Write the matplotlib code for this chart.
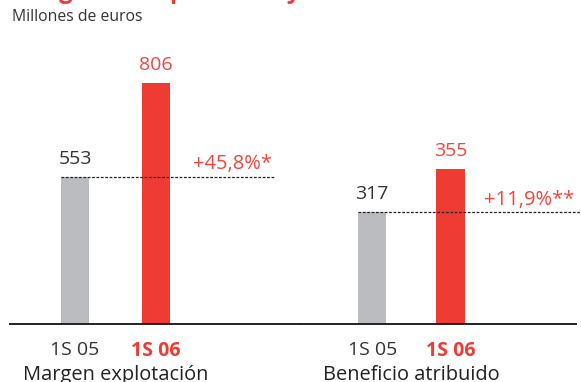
import matplotlib.pyplot as plt

plt.rcParams['font.family'] = ['Open Sans', 'DejaVu Sans']

# Figures in millions of euros, first half 2005 vs first half 2006
periods = ['1S 05', '1S 06']
margen = [553, 806]
beneficio = [317, 355]
growth_labels = ['+45,8%*', '+11,9%**']
group_names = ['Margen explotación', 'Beneficio atribuido']

RED = '#EE3B33'
RED_TEXT = '#F0463D'
GREY = '#BBBCC0'
DARK = '#333333'

W, H = 581, 382
fig = plt.figure(figsize=(W / 100, H / 100), dpi=100)

base = 324  # baseline, pixels from top


def px_axes(x0, x1):
    return fig.add_axes([x0 / W, (H - base) / H, (x1 - x0) / W, base / H])


# each panel has its own value range (broken scale)
ax1 = px_axes(10, 300)
ax2 = px_axes(300, 576)
ax1.set_xlim(-0.802, 2.778)
ax1.set_ylim(157.3, 1029.4)
ax2.set_xlim(-0.923, 2.603)
ax2.set_ylim(218.0, 504.3)

panels = [
    (ax1, margen, 0.346, 2.469, 1.95, 9.7),
    (ax2, beneficio, 0.359, 2.68, 2.0, 8.3),
]

for i, (ax, vals, width, dash_end, pct_x, pct_off) in enumerate(panels):
    x = list(range(len(vals)))
    ax.bar(x, vals, width=width, color=[GREY, RED], zorder=2)
    ax.hlines(vals[0], x[0] - width / 2, dash_end, colors='#222222',
              linestyles=(0, (2.2, 1.3)), linewidth=0.9, zorder=3, clip_on=False)
    for xi, v, c in zip(x, vals, [DARK, RED_TEXT]):
        ax.annotate(str(v), (xi, v), xytext=(0, 13), textcoords='offset points',
                    ha='center', va='center', fontsize=14, color=c)
    ax.annotate(growth_labels[i], (pct_x, vals[0]), xytext=(0, pct_off),
                textcoords='offset points', ha='center', va='center',
                fontsize=14.5, color=RED_TEXT, annotation_clip=False)

    ax.set_xticks(x)
    ax.set_xticklabels(periods, fontsize=14)
    tl = ax.get_xticklabels()
    tl[0].set_color(DARK)
    tl[1].set_color(RED)
    tl[1].set_fontweight('bold')
    ax.tick_params(axis='x', length=0, pad=12)
    ax.set_yticks([])
    for s in ['top', 'left', 'right']:
        ax.spines[s].set_visible(False)
    ax.spines['bottom'].set_color('#222222')
    ax.spines['bottom'].set_linewidth(1.4)
    # group name centred under its pair of bars
    ax.text(0.5, -51 / base, group_names[i], transform=ax.get_xaxis_transform(),
            ha='center', va='center', fontsize=14.4, color='#222222')
    ax.set_facecolor('none')

fig.text(12 / W, 1 - 17 / H, 'Millones de euros', fontsize=11.3, color=DARK,
         va='center', ha='left')
# heading sits above the visible area, only its descenders show
fig.text(12 / W, 1 + 2.5 / H, 'Margen de explotación y beneficio atribuido',
         fontsize=17, fontweight='bold', color=RED, va='baseline', ha='left')

fig.savefig('out.png', dpi=100)
